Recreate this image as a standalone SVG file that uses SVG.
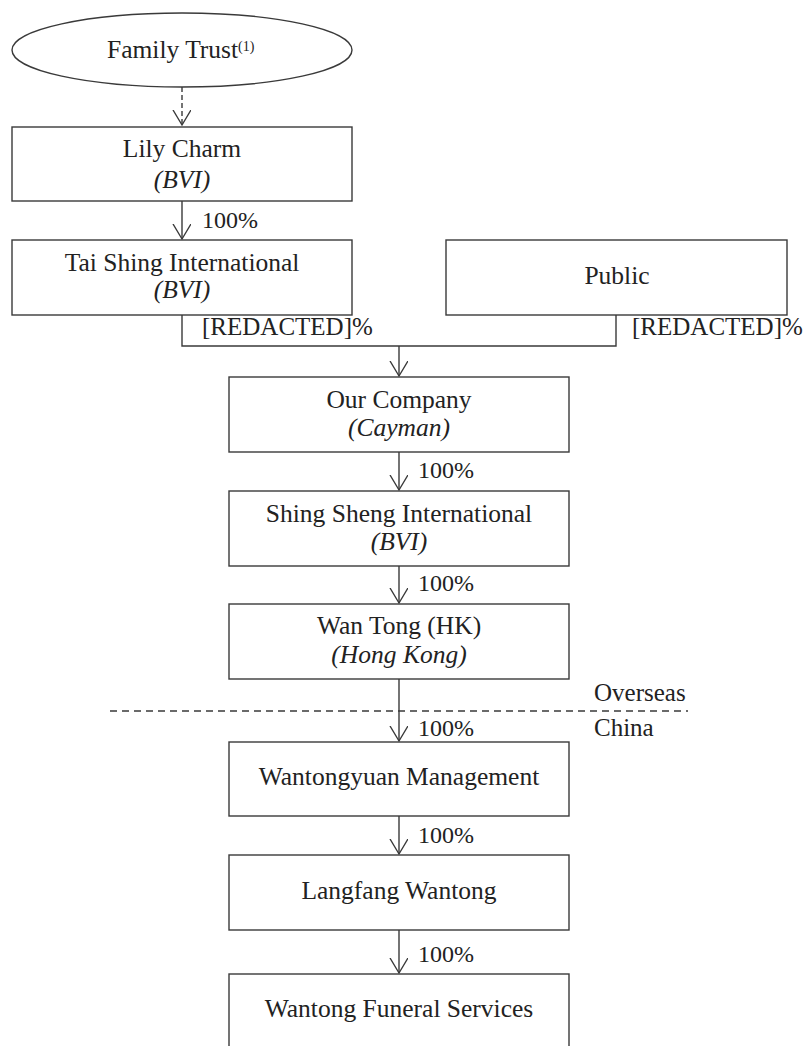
<svg xmlns="http://www.w3.org/2000/svg" width="809" height="1046" viewBox="0 0 809 1046">
<style>
.box{fill:#fff;stroke:#3a3a3a;stroke-width:1.4}
.t{font-family:"Liberation Serif","Times New Roman",serif;font-size:25.5px;fill:#222;text-anchor:middle}
.i{font-style:italic}
.lbl{font-family:"Liberation Serif","Times New Roman",serif;font-size:24px;fill:#222}
.red{font-size:25px}
.ln{fill:none;stroke:#3a3a3a;stroke-width:1.4}
</style>
<defs>
<marker id="ah" markerWidth="20" markerHeight="20" refX="15" refY="9" orient="auto" markerUnits="userSpaceOnUse" viewBox="0 0 20 20">
<path d="M0,0 L15,9 L0,18" fill="none" stroke="#3a3a3a" stroke-width="1.4"/>
</marker>
</defs>
<rect width="809" height="1046" fill="#fff"/>
<g id="connectors">
<line class="ln" x1="182" y1="87" x2="182" y2="125" stroke-dasharray="5 3" marker-end="url(#ah)"/>
<line class="ln" x1="182" y1="201" x2="182" y2="239" marker-end="url(#ah)"/>
<path class="ln" d="M182,315 V346 H616 V315"/>
<line class="ln" x1="399" y1="346" x2="399" y2="376" marker-end="url(#ah)"/>
<line class="ln" x1="399" y1="452" x2="399" y2="490" marker-end="url(#ah)"/>
<line class="ln" x1="399" y1="566" x2="399" y2="603" marker-end="url(#ah)"/>
<line class="ln" x1="399" y1="679" x2="399" y2="741" marker-end="url(#ah)"/>
<line class="ln" x1="399" y1="816" x2="399" y2="854" marker-end="url(#ah)"/>
<line class="ln" x1="399" y1="930" x2="399" y2="973" marker-end="url(#ah)"/>
<line class="ln" x1="110" y1="711" x2="688" y2="711" stroke-dasharray="7 5"/>
<text class="lbl" x="202" y="228">100%</text>
<text class="lbl red" x="202" y="335">[REDACTED]%</text>
<text class="lbl red" x="632" y="335">[REDACTED]%</text>
<text class="lbl" x="418" y="478">100%</text>
<text class="lbl" x="418" y="591">100%</text>
<text class="lbl" x="418" y="736">100%</text>
<text class="lbl" x="418" y="843">100%</text>
<text class="lbl" x="418" y="962">100%</text>
<text class="lbl" x="594" y="701" style="font-size:25px">Overseas</text>
<text class="lbl" x="594" y="736" style="font-size:25px">China</text>
</g>
<g id="family-trust">
<ellipse class="box" cx="182" cy="50" rx="170" ry="37"/>
<text class="t" x="107" y="58" style="text-anchor:start">Family Trust<tspan font-size="14" dy="-7">(1)</tspan></text>
</g>
<g id="lily-charm">
<rect class="box" x="12" y="127" width="340" height="74"/>
<text class="t" x="182" y="157">Lily Charm</text>
<text class="t i" x="182" y="188">(BVI)</text>
</g>
<g id="tai-shing">
<rect class="box" x="12" y="240" width="340" height="75"/>
<text class="t" x="182" y="271">Tai Shing International</text>
<text class="t i" x="182" y="298">(BVI)</text>
</g>
<g id="public">
<rect class="box" x="446" y="240" width="341" height="75"/>
<text class="t" x="617" y="284">Public</text>
</g>
<g id="our-company">
<rect class="box" x="229" y="377" width="340" height="75"/>
<text class="t" x="399" y="408">Our Company</text>
<text class="t i" x="399" y="436">(Cayman)</text>
</g>
<g id="shing-sheng">
<rect class="box" x="229" y="491" width="340" height="75"/>
<text class="t" x="399" y="522">Shing Sheng International</text>
<text class="t i" x="399" y="550">(BVI)</text>
</g>
<g id="wan-tong-hk">
<rect class="box" x="229" y="604" width="340" height="75"/>
<text class="t" x="399" y="634">Wan Tong (HK)</text>
<text class="t i" x="399" y="663">(Hong Kong)</text>
</g>
<g id="wantongyuan">
<rect class="box" x="229" y="742" width="340" height="74"/>
<text class="t" x="399" y="785">Wantongyuan Management</text>
</g>
<g id="langfang">
<rect class="box" x="229" y="855" width="340" height="75"/>
<text class="t" x="399" y="899">Langfang Wantong</text>
</g>
<g id="funeral">
<rect class="box" x="229" y="974" width="340" height="100"/>
<text class="t" x="399" y="1017">Wantong Funeral Services</text>
</g>
</svg>
